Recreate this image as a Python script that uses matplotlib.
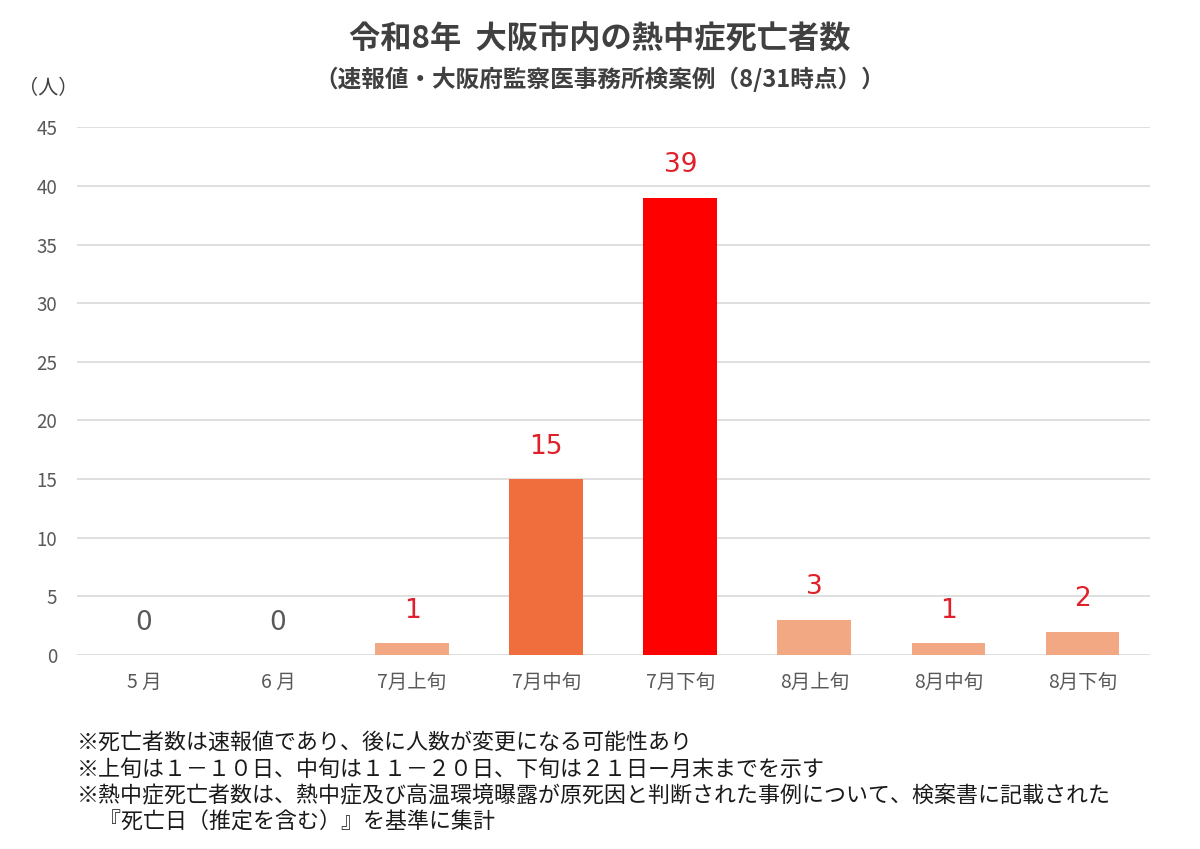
import matplotlib
matplotlib.use("Agg")
import matplotlib.pyplot as plt

plt.rcParams['font.family'] = ['Noto Sans CJK JP', 'DejaVu Sans']

categories = ["5 月", "6 月", "7月上旬", "7月中旬", "7月下旬", "8月上旬", "8月中旬", "8月下旬"]
values = [0, 0, 1, 15, 39, 3, 1, 2]
bar_colors = ["#F2A883", "#F2A883", "#F2A883", "#F06E3D", "#FF0000", "#F2A883", "#F2A883", "#F2A883"]
label_colors = ["#595959", "#595959", "#E0202A", "#E0202A", "#E0202A", "#E0202A", "#E0202A", "#E0202A"]
yticks = [0, 5, 10, 15, 20, 25, 30, 35, 40, 45]

title = "令和8年  大阪市内の熱中症死亡者数"
subtitle = "（速報値・大阪府監察医事務所検案例（8/31時点））"
notes = [
    "※死亡者数は速報値であり、後に人数が変更になる可能性あり",
    "※上旬は１－１０日、中旬は１１－２０日、下旬は２１日ー月末までを示す",
    "※熱中症死亡者数は、熱中症及び高温環境曝露が原死因と判断された事例について、検案書に記載された",
    "　『死亡日（推定を含む）』を基準に集計",
]

fig = plt.figure(figsize=(12, 8.49), dpi=100)
ax = fig.add_axes([0.064, 0.2285, 0.894, 0.6215])

x = list(range(len(categories)))
ax.bar(x, values, width=0.55, color=bar_colors, zorder=3)
ax.set_xlim(-0.5, len(categories) - 0.5)
ax.set_ylim(0, 45)
ax.set_yticks(yticks)
ax.set_xticks(x)
ax.set_xticklabels(categories)
ax.grid(axis='y', color='#D9D9D9', linewidth=1.2, zorder=0)
for s in ax.spines.values():
    s.set_visible(False)
ax.tick_params(axis='both', length=0, colors='#595959', labelsize=13.5)
ax.tick_params(axis='x', pad=12, labelsize=14)
ax.tick_params(axis='y', pad=14)

for xi, v, c in zip(x, values, label_colors):
    ax.annotate(str(v), (xi, v), xytext=(0, 14), textcoords='offset points',
                ha='center', va='bottom', fontsize=19, color=c, family=['DejaVu Sans'])

fig.text(0.5, 0.953, title, ha='center', va='center', fontsize=22.5, fontweight='bold', color='#404040')
fig.text(0.5, 0.906, subtitle, ha='center', va='center', fontsize=17, fontweight='bold', color='#404040')
fig.text(0.040, 0.896, "（人）", ha='center', va='center', fontsize=14.5, color='#404040')

for i, line in enumerate(notes):
    fig.text(0.064, 1 - (743 + 26.5 * i) / 849, line, ha='left', va='center', fontsize=15.8, color='#1A1A1A')

fig.savefig("out.png", dpi=100, facecolor='white')
